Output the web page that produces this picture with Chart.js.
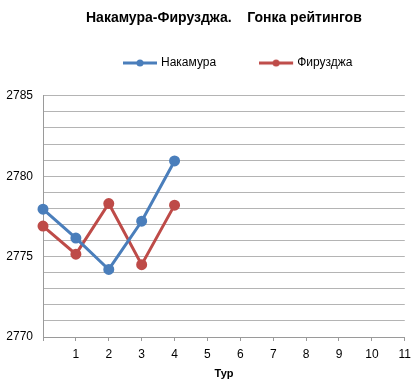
<!DOCTYPE html>
<html>
<head>
<meta charset="utf-8">
<script src="https://cdn.jsdelivr.net/npm/chart.js@4/dist/chart.umd.min.js"></script>
<style>
html,body{margin:0;padding:0;background:#fff;}
#wrap{width:417px;height:384px;}
</style>
</head>
<body>
<div id="wrap"><canvas id="c" width="417" height="384"></canvas></div>
<script>
// ---- data ----
const rounds = [0, 1, 2, 3, 4];
const nakamura = [2777.95, 2776.15, 2774.2, 2777.2, 2780.95];
const firouzja = [2776.9, 2775.15, 2778.3, 2774.5, 2778.2];
const seriesNames = ['Накамура', 'Фирузджа'];
const xTickValues = [0, 1, 2, 3, 4, 5, 6, 7, 8, 9, 10, 11];
const yMin = 2770, yMax = 2785, yLabelStep = 5;
const chartTitle = 'Накамура-Фирузджа.    Гонка рейтингов';
const xTitle = 'Тур';
</script>
<script>
const BLUE = '#4A7EBB', RED = '#BE4B48';
const FONT = "'Liberation Sans', Arial, sans-serif";
Chart.defaults.color = '#000';
Chart.defaults.font.family = FONT;

function legendIcon(color){
  const c = document.createElement('canvas');
  c.width = 36; c.height = 10;
  const g = c.getContext('2d');
  g.strokeStyle = color; g.lineWidth = 3;
  g.beginPath(); g.moveTo(0,5); g.lineTo(34,5); g.stroke();
  g.fillStyle = color;
  g.beginPath(); g.arc(17,5,3.5,0,Math.PI*2); g.fill();
  return c;
}
const icons = [legendIcon(BLUE), legendIcon(RED)];

const legendShift = {
  id: 'legendShift',
  afterInit(chart){
    const lg = chart.legend;
    const orig = lg.draw.bind(lg);
    lg.draw = function(area){
      const hb = this.legendHitBoxes && this.legendHitBoxes[0];
      const ctx = this.ctx;
      ctx.save();
      if (hb) ctx.translate(127 - hb.left, 63 - (hb.top + hb.height/2));
      orig(area);
      ctx.restore();
    };
  }
};

const toPts = (arr) => rounds.map((r,i) => ({x: r, y: arr[i]}));
const series = [nakamura, firouzja];
const colors = [BLUE, RED];

new Chart(document.getElementById('c'), {
  type: 'line',
  data: {
    datasets: series.map((arr, i) => ({
      label: seriesNames[i], data: toPts(arr),
      borderColor: colors[i], backgroundColor: colors[i],
      borderWidth: 3, pointRadius: 4, pointBackgroundColor: colors[i], pointBorderColor: colors[i],
      clip: false, tension: 0
    }))
  },
  options: {
    responsive: false,
    animation: false,
    layout: {padding: {left: 0, right: 12, top: 0, bottom: 0}},
    plugins: {
      title: {
        display: true, text: chartTitle, fullSize: false,
        font: {size: 14, weight: 'bold', family: FONT}, color: '#000',
        padding: {top: 10, bottom: 0}
      },
      legend: {
        display: true, position: 'top',
        labels: {
          usePointStyle: true, pointStyleWidth: 28, padding: 47,
          font: {size: 12, family: FONT}, color: '#000',
          generateLabels(chart){
            return Chart.defaults.plugins.legend.labels.generateLabels(chart)
              .map((l,i) => Object.assign(l, {pointStyle: icons[i]}));
          }
        }
      },
      tooltip: {enabled: false}
    },
    scales: {
      x: {
        type: 'linear', min: xTickValues[0], max: xTickValues[xTickValues.length-1],
        afterBuildTicks(s){ s.ticks = xTickValues.map(v => ({value: v})); },
        afterFit(s){ s.height = 47; },
        ticks: {
          padding: 6, font: {size: 12, family: FONT}, color: '#000', maxRotation: 0, autoSkip: false,
          callback: (v) => v === 0 ? '' : String(v)
        },
        grid: {drawOnChartArea: false, drawTicks: true, tickLength: 4, color: '#9a9a9a'},
        border: {display: true, color: '#9a9a9a', width: 1},
        title: {display: true, text: xTitle, font: {size: 11, weight: 'bold', family: FONT}, color: '#000',
                padding: {top: 0, bottom: 3}}
      },
      y: {
        min: yMin, max: yMax,
        afterFit(s){ s.width = 43; },
        ticks: {
          stepSize: 1, padding: 10, font: {size: 12, family: FONT}, color: '#000', autoSkip: false,
          callback: (v) => v % yLabelStep === 0 ? String(v) : ''
        },
        grid: {drawTicks: false, color: '#b4b4b4', lineWidth: 1},
        border: {display: true, color: '#9a9a9a', width: 1}
      }
    }
  },
  plugins: [legendShift]
});
</script>
</body>
</html>
